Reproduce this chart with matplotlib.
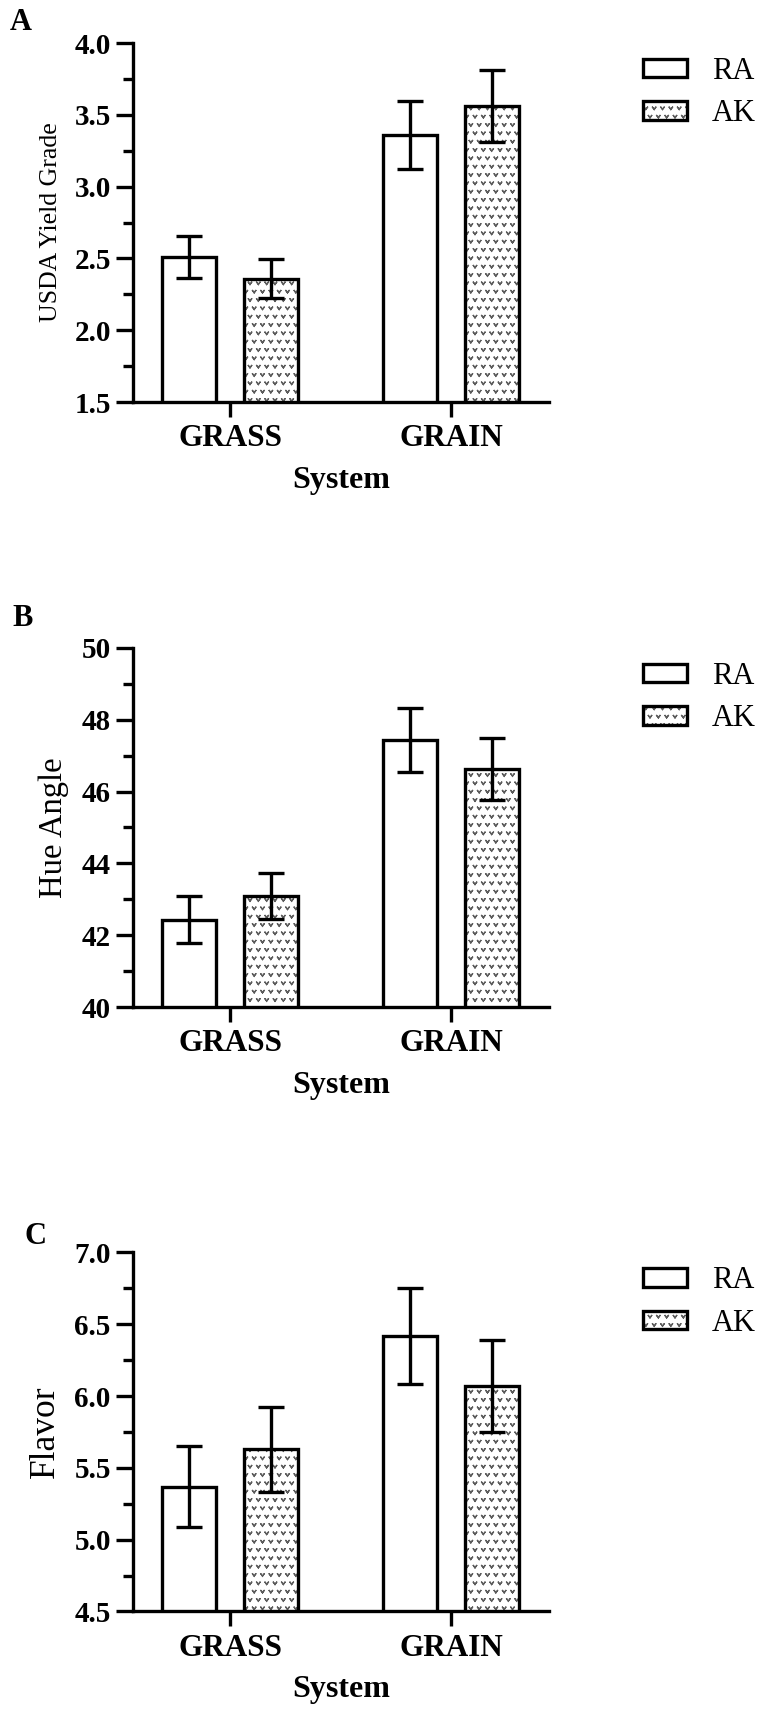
import numpy as np
import matplotlib
matplotlib.use('Agg')
import matplotlib.pyplot as plt
from matplotlib import hatch as mhatch
from matplotlib.path import Path
from matplotlib.ticker import MultipleLocator

plt.rcParams['font.family'] = ['Liberation Serif', 'DejaVu Serif']
plt.rcParams['hatch.linewidth'] = 0.9

# data
systems = ['GRASS', 'GRAIN']
series = ['RA', 'AK']

yield_ra = [2.51, 3.36]
yield_ra_err = [0.145, 0.235]
yield_ak = [2.36, 3.56]
yield_ak_err = [0.135, 0.25]
yield_ticks = [1.5, 2.0, 2.5, 3.0, 3.5, 4.0]
yield_ticklabels = ['1.5', '2.0', '2.5', '3.0', '3.5', '4.0']

hue_ra = [42.43, 47.44]
hue_ra_err = [0.65, 0.89]
hue_ak = [43.09, 46.63]
hue_ak_err = [0.64, 0.86]
hue_ticks = [40, 42, 44, 46, 48, 50]
hue_ticklabels = ['40', '42', '44', '46', '48', '50']

flavor_ra = [5.37, 6.42]
flavor_ra_err = [0.28, 0.335]
flavor_ak = [5.63, 6.07]
flavor_ak_err = [0.295, 0.32]
flavor_ticks = [4.5, 5.0, 5.5, 6.0, 6.5, 7.0]
flavor_ticklabels = ['4.5', '5.0', '5.5', '6.0', '6.5', '7.0']


# small "v" stipple used for the AK bars (replaces the 'o' hatch)
class VHatch(mhatch.Shapes):
    filled = False
    size = 0.42

    def __init__(self, hatch, density):
        self.num_rows = hatch.count('o') * density
        self.shape_vertices = np.array([[-0.5, 0.35], [0.0, -0.35], [0.5, 0.35]])
        self.shape_codes = np.array([Path.MOVETO, Path.LINETO, Path.LINETO])
        super().__init__(hatch, density)


mhatch._hatch_types = [VHatch if t is mhatch.SmallCircles else t
                       for t in mhatch._hatch_types]

fig = plt.figure(figsize=(7.64, 17.16), dpi=100)

off = 0.185
width = 0.245
lw = 2.4


def draw_panel(rect, letter, letter_xy, ra, ra_err, ak, ak_err,
               ticks, ticklabels, minor, ylabel, ylabel_size):
    ax = fig.add_axes(rect)
    x = np.arange(len(systems))

    ra_bars = ax.bar(x - off, ra, width, color='white', edgecolor='black', linewidth=lw)
    ak_fill = ax.bar(x + off, ak, width, color='white', edgecolor='#5c5c5c',
                     linewidth=0, hatch='oo')
    ak_edge = ax.bar(x + off, ak, width, fill=False, edgecolor='black', linewidth=lw)

    ax.errorbar(x - off, ra, yerr=ra_err, fmt='none', ecolor='black',
                elinewidth=lw, capsize=9.7, capthick=lw, zorder=3)
    ax.errorbar(x + off, ak, yerr=ak_err, fmt='none', ecolor='black',
                elinewidth=lw, capsize=9.7, capthick=lw, zorder=3)

    ax.set_xlim(-0.439, 1.443)
    ax.set_ylim(ticks[0], ticks[-1])
    ax.set_yticks(ticks, ticklabels, fontweight='bold', fontsize=21)
    ax.yaxis.set_minor_locator(MultipleLocator(minor))
    ax.set_xticks(x, systems, fontweight='bold', fontsize=22.5)

    for s in ['top', 'right']:
        ax.spines[s].set_visible(False)
    for s in ['left', 'bottom']:
        ax.spines[s].set_linewidth(lw)

    ax.tick_params(axis='y', which='major', length=12, width=lw, pad=4)
    ax.tick_params(axis='y', which='minor', length=7, width=lw)
    ax.tick_params(axis='x', length=11, width=lw, pad=5)

    ax.set_ylabel(ylabel, fontsize=ylabel_size, labelpad=9)
    ax.set_xlabel('System', fontsize=23, fontweight='bold', labelpad=9)

    ax.legend([ra_bars, (ak_fill, ak_edge)], series, loc='center left',
              bbox_to_anchor=(1.226, 0.862), frameon=False, borderpad=0,
              borderaxespad=0, handlelength=1.45, handleheight=0.56,
              handletextpad=0.8, labelspacing=0.45, prop={'size': 22})

    fig.text(letter_xy[0] / 764, 1 - letter_xy[1] / 1716, letter,
             fontsize=22, fontweight='bold', ha='left', va='center')
    return ax


draw_panel([0.1741, 0.76573, 0.5445, 0.20921], 'A', (10, 23),
           yield_ra, yield_ra_err, yield_ak, yield_ak_err,
           yield_ticks, yield_ticklabels, 0.25, 'USDA Yield Grade', 18.5)
draw_panel([0.1741, 0.41317, 0.5445, 0.20921], 'B', (12, 619),
           hue_ra, hue_ra_err, hue_ak, hue_ak_err,
           hue_ticks, hue_ticklabels, 1, 'Hue Angle', 23.5)
draw_panel([0.1741, 0.0609, 0.5445, 0.20921], 'C', (24, 1237),
           flavor_ra, flavor_ra_err, flavor_ak, flavor_ak_err,
           flavor_ticks, flavor_ticklabels, 0.25, 'Flavor', 25.5)

fig.savefig('out.png', dpi=100)
